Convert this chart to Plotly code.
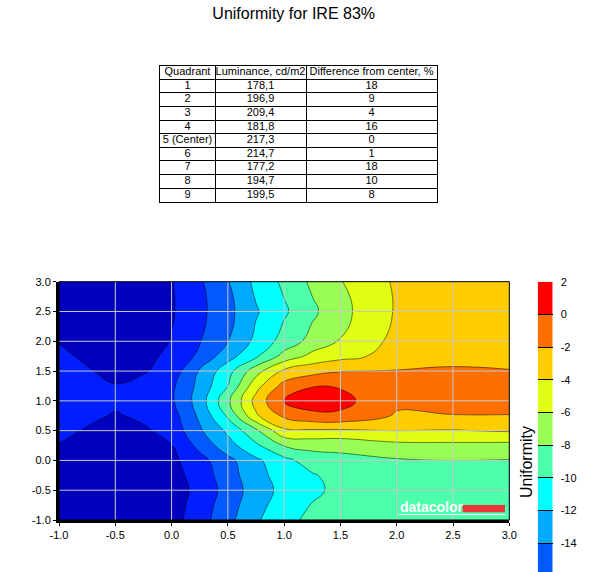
import plotly.graph_objects as go

# quadrant table
quadrants = ["1", "2", "3", "4", "5 (Center)", "6", "7", "8", "9"]
luminance = ["178,1", "196,9", "209,4", "181,8", "217,3", "214,7", "177,2", "194,7", "199,5"]
difference = [18, 9, 4, 16, 0, 1, 18, 10, 8]
headers = ["Quadrant", "Luminance, cd/m2", "Difference from center, %"]
col_widths = [55, 91, 131]

# uniformity map, values (rows = y, columns = x)
x_vals = [-1, -0.75, -0.5, -0.25, 0, 0.25, 0.5, 0.75, 1, 1.25, 1.5, 2, 2.5, 3]
y_vals = [-1, -0.75, -0.5, -0.25, 0, 0.25, 0.5, 0.75, 1, 1.25, 1.5, 1.75, 2, 2.5, 3]
z_rows = [
    [-20.0, -20.2, -20.5, -19.8, -18.8, -16.9, -14.6, -12.3, -10.5, -9.6, -9.3, -9.0, -9.0, -8.9],
    [-20.0, -20.2, -20.5, -19.8, -18.9, -17.1, -14.9, -12.7, -11.0, -9.9, -9.4, -9.0, -8.9, -8.8],
    [-20.0, -20.2, -20.5, -19.8, -19.0, -17.4, -15.2, -13.0, -11.4, -10.4, -9.5, -8.9, -8.7, -8.6],
    [-19.8, -20.0, -20.4, -19.6, -18.8, -17.1, -14.9, -12.7, -11.1, -10.2, -9.2, -8.6, -8.4, -8.4],
    [-19.5, -19.8, -20.2, -19.4, -18.5, -16.7, -14.6, -12.4, -10.6, -9.0, -8.5, -8.2, -8.0, -8.1],
    [-18.1, -19.0, -19.6, -18.8, -18.05, -15.4, -12.8, -10.4, -7.9, -7.4, -7.5, -6.6, -6.5, -6.6],
    [-17.4, -18.2, -19.0, -18.3, -17.3, -14.3, -11.6, -8.4, -4.4, -4.3, -4.3, -4.0, -4.1, -3.8],
    [-17.0, -17.5, -18.2, -17.6, -16.9, -13.6, -9.7, -4.3, -1.6, -0.5, -0.37, -2.2, -2.1, -2.1],
    [-16.5, -17.0, -17.5, -17.0, -16.3, -13.1, -8.4, -3.3, 0.2, 1.0, 0.6, -1.6, -0.9, -0.9],
    [-16.6, -17.2, -17.9, -17.3, -16.4, -13.4, -10.0, -4.7, -1.3, -0.1, -0.17, -1.0, -1.0, -1.0],
    [-17.0, -17.8, -18.6, -18.2, -17.2, -13.8, -10.8, -6.8, -3.6, -2.7, -2.1, -1.9, -1.7, -1.9],
    [-17.5, -18.4, -18.9, -18.6, -17.5, -15.6, -12.8, -10.3, -7.3, -5.4, -4.6, -3.3, -2.7, -2.8],
    [-18.1, -19.2, -19.5, -19.2, -17.9, -16.1, -14.0, -11.5, -9.2, -7.3, -5.9, -3.4, -3.0, -3.0],
    [-19.5, -20.0, -20.3, -19.6, -18.2, -16.5, -14.6, -12.2, -10.3, -8.4, -6.6, -3.8, -3.1, -3.2],
    [-20.3, -20.5, -20.8, -19.8, -18.1, -16.3, -14.1, -11.5, -9.6, -7.6, -6.1, -3.7, -3.2, -3.3],
]

# one colour per 2% band, from -20..-18 up to 0..2
band_lows = [-20, -18, -16, -14, -12, -10, -8, -6, -4, -2, 0]
band_colors = ["#0000BE", "#001EFF", "#005AFF", "#00AAFF", "#00FFFF", "#4CFFAA",
               "#99FF55", "#E1FF14", "#FFCC00", "#FF6E00", "#FF0000"]
axis_ticks = [-1.0, -0.5, 0.0, 0.5, 1.0, 1.5, 2.0, 2.5, 3.0]
bar_ticks = [-20, -18, -16, -14, -12, -10, -8, -6, -4, -2, 0, 2]

font = "Liberation Sans, Arial, sans-serif"

# page layout in pixels
W, H = 594, 572
L, T = 59, 40
pw, ph = W - L, H - T


def px_x(p):
    return (p - L) / pw


def px_y(p):
    return (H - p) / ph


n = len(band_colors)
colorscale = []
for k, c in enumerate(band_colors):
    colorscale.append([k / n, c])
    colorscale.append([(k + 1) / n, c])

fig = go.Figure()

# filled contour map
fig.add_trace(go.Contour(
    x=x_vals, y=y_vals, z=z_rows,
    colorscale=colorscale, showscale=False,
    contours=dict(start=-18, end=2, size=2, coloring="fill", showlines=True),
    line=dict(color="rgba(0,0,0,0.5)", width=1, smoothing=1.3),
    hoverinfo="skip",
))

# colour bar as stacked bands on its own axis
fig.add_trace(go.Bar(
    x=[0] * n, y=[2] * n, base=band_lows, width=1,
    marker=dict(color=band_colors, line=dict(width=0)),
    xaxis="x2", yaxis="y2", hoverinfo="skip",
))

# table drawn as text on its own grid
edges = [0]
for w in col_widths:
    edges.append(edges[-1] + w)
centers = [(edges[i] + edges[i + 1]) / 2 for i in range(len(col_widths))]
columns = [quadrants, luminance, [str(v) for v in difference]]
tx, ty, tt = [], [], []
for c, col in enumerate(columns):
    for r, val in enumerate([headers[c]] + col):
        tx.append(centers[c])
        ty.append(r)
        tt.append(val)
fig.add_trace(go.Scatter(
    x=tx, y=ty, text=tt, mode="text", textposition="middle center",
    textfont=dict(family=font, size=11, color="black"),
    xaxis="x3", yaxis="y3", hoverinfo="skip",
))

tick_text = [f"{v:.1f}" for v in axis_ticks]
main_axis = dict(
    range=[-1, 3], showgrid=False, zeroline=False,
    tickmode="array", tickvals=axis_ticks, ticktext=tick_text,
    ticks="outside", ticklen=3, tickcolor="black",
    showline=True, linecolor="black", linewidth=3,
    tickfont=dict(family=font, size=11, color="black"),
)
fig.update_layout(
    xaxis=dict(domain=[0, px_x(509.3)], anchor="y", **main_axis),
    yaxis=dict(domain=[px_y(520), px_y(281.7)], anchor="x", **main_axis),
    xaxis2=dict(domain=[px_x(537.7), px_x(552.7)], anchor="y2", range=[-0.5, 0.5],
                visible=False),
    yaxis2=dict(domain=[0, px_y(281.7)], anchor="x2", range=[-15.76, 2], side="right",
                showgrid=False, zeroline=False, showline=False,
                tickmode="array", tickvals=bar_ticks, ticktext=[str(v) for v in bar_ticks],
                ticks="inside", ticklen=15, tickwidth=1, tickcolor="black",
                ticklabelstandoff=7,
                tickfont=dict(family=font, size=11, color="black")),
    xaxis3=dict(domain=[px_x(160), px_x(437)], anchor="y3", range=[0, edges[-1]],
                tickmode="array", tickvals=edges[1:-1], showticklabels=False, ticks="",
                showgrid=True, gridcolor="black", gridwidth=1, zeroline=False,
                showline=True, mirror=True, linecolor="black", linewidth=1),
    yaxis3=dict(domain=[px_y(201.7), px_y(65.7)], anchor="x3", range=[9.5, -0.5],
                tickmode="array", tickvals=[r + 0.5 for r in range(9)],
                showticklabels=False, ticks="",
                showgrid=True, gridcolor="black", gridwidth=1, zeroline=False,
                showline=True, mirror=True, linecolor="black", linewidth=1),
)

# grid drawn over the filled contours
for v in axis_ticks[1:-1]:
    fig.add_shape(type="line", xref="x", yref="y domain", x0=v, x1=v, y0=0, y1=1,
                  line=dict(color="#C8C8C8", width=1), layer="above")
    fig.add_shape(type="line", xref="x domain", yref="y", x0=0, x1=1, y0=v, y1=v,
                  line=dict(color="#C8C8C8", width=1), layer="above")
fig.add_shape(type="rect", xref="x domain", yref="y domain", x0=0, x1=1, y0=0, y1=1,
              line=dict(color="black", width=1), layer="above")

# datacolor logo
fig.add_annotation(text="<b>datacolor</b>", xref="paper", yref="paper",
                   x=px_x(398), y=px_y(507), xanchor="left", yanchor="middle",
                   showarrow=False, font=dict(family=font, size=14, color="white"))
fig.add_shape(type="rect", xref="paper", yref="paper",
              x0=px_x(462.7), x1=px_x(505), y0=px_y(512.3), y1=px_y(505),
              fillcolor="#EE3338", line=dict(width=0), layer="above")
fig.add_shape(type="line", xref="paper", yref="paper",
              x0=px_x(399), x1=px_x(505), y0=px_y(514.5), y1=px_y(514.5),
              line=dict(color="white", width=1), layer="above")

fig.add_annotation(text="Uniformity", xref="paper", yref="paper",
                   x=px_x(526), y=px_y(462), xanchor="center", yanchor="middle",
                   textangle=-90, showarrow=False,
                   font=dict(family=font, size=16, color="black"))

fig.update_layout(
    width=W, height=H,
    margin=dict(l=L, r=0, t=T, b=0, autoexpand=False),
    paper_bgcolor="white", plot_bgcolor="white",
    showlegend=False,
    title=dict(text="Uniformity for IRE 83%", x=293.7 / W, xanchor="center",
               y=1 - 13 / H, yanchor="middle", yref="container",
               font=dict(family=font, size=16, color="black")),
)

fig.write_html("out.html", config={"displayModeBar": False},
               post_script="document.body.style.margin = '0';")
